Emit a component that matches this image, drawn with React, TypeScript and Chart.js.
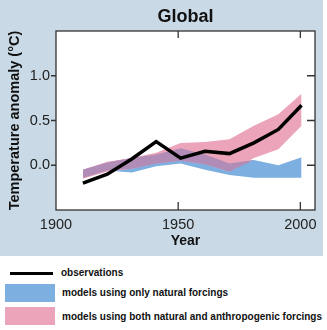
import React, { useEffect, useRef } from "react";
import { Chart, registerables } from "chart.js";

Chart.register(...registerables);

// ---- data ----
const years = [1911, 1921, 1931, 1941, 1951, 1961, 1971, 1981, 1991, 2000.5];
const observations = [-0.2, -0.1, 0.07, 0.265, 0.08, 0.155, 0.13, 0.25, 0.4, 0.67];
const naturalUpper = [-0.05, 0.03, 0.08, 0.12, 0.19, 0.12, 0.02, 0.06, 0.0, 0.09];
const naturalLower = [-0.14, -0.06, -0.08, -0.01, 0.02, -0.05, -0.11, -0.14, -0.14, -0.14];
const bothUpper = [-0.05, 0.04, 0.08, 0.14, 0.25, 0.26, 0.29, 0.44, 0.57, 0.8];
const bothLower = [-0.15, -0.07, -0.04, 0.02, 0.05, 0.01, -0.07, 0.08, 0.18, 0.44];
const xTickValues = [1900, 1950, 2000];
const xTickMarks = [1950, 2000];
const yTickValues = [0, 0.5, 1.0];
const legendLabels = [
  "observations",
  "models using only natural forcings",
  "models using both natural and anthropogenic forcings",
];

const FONT = "'Liberation Sans', Arial, Helvetica, sans-serif";
const PANEL = "#c9dae6";
const BLUE = "#7dafe0";
const PINK = "#eca4ba";
const PURPLE = "#b08cb6";

const pts = (vals: number[]) => years.map((x, i) => ({ x, y: vals[i] }));

const frameTicks = {
  id: "frameTicks",
  beforeDraw(chart: any) {
    const { ctx, chartArea: a } = chart;
    ctx.save();
    ctx.fillStyle = "#ffffff";
    ctx.fillRect(a.left, a.top, a.right - a.left, a.bottom - a.top);
    ctx.restore();
  },
  afterDatasetsDraw(chart: any) {
    const { ctx, chartArea: a, scales } = chart;
    ctx.save();
    ctx.strokeStyle = "#333333";
    ctx.lineWidth = 1.3;
    ctx.strokeRect(a.left, a.top, a.right - a.left, a.bottom - a.top);
    ctx.beginPath();
    yTickValues.forEach((v) => {
      const y = scales.y.getPixelForValue(v);
      ctx.moveTo(a.left - 5, y);
      ctx.lineTo(a.left, y);
      ctx.moveTo(a.right - 8, y);
      ctx.lineTo(a.right, y);
    });
    xTickMarks.forEach((v) => {
      const x = scales.x.getPixelForValue(v);
      ctx.moveTo(x, a.bottom);
      ctx.lineTo(x, a.bottom - 8);
      ctx.moveTo(x, a.top);
      ctx.lineTo(x, a.top + 7);
    });
    ctx.stroke();
    ctx.restore();
  },
};

export default function App() {
  const ref = useRef<HTMLCanvasElement | null>(null);

  useEffect(() => {
    if (!ref.current) return;
    const overlapUpper = years.map((_, i) => Math.min(bothUpper[i], naturalUpper[i]));
    const overlapLower = years.map((_, i) =>
      Math.min(Math.max(bothLower[i], naturalLower[i]), overlapUpper[i])
    );
    const band = (vals: number[], color: string, fill: any) => ({
      data: pts(vals),
      borderWidth: 0,
      borderColor: "rgba(0,0,0,0)",
      backgroundColor: color,
      pointRadius: 0,
      fill,
      tension: 0,
    });
    const chart = new Chart(ref.current, {
      type: "line",
      data: {
        datasets: [
          {
            label: legendLabels[0],
            data: pts(observations),
            borderColor: "#000000",
            borderWidth: 3.5,
            borderJoinStyle: "miter",
            pointRadius: 0,
            fill: false,
            tension: 0,
          } as any,
          band(overlapUpper, PURPLE, "+1"),
          band(overlapLower, PURPLE, false),
          band(bothUpper, PINK, "+1"),
          band(bothLower, PINK, false),
          band(naturalUpper, BLUE, "+1"),
          band(naturalLower, BLUE, false),
        ],
      },
      options: {
        animation: false,
        responsive: false,
        maintainAspectRatio: false,
        events: [],
        layout: { padding: { left: 2, right: 8, top: 0, bottom: 4 } },
        plugins: {
          legend: { display: false },
          tooltip: { enabled: false },
          filler: { propagate: false },
          title: {
            display: true,
            text: "Global",
            fullSize: false,
            color: "#111111",
            font: { family: FONT, size: 18, weight: "bold" },
            padding: { top: 6.2, bottom: 3.2 },
          },
        },
        scales: {
          x: {
            type: "linear",
            min: 1900,
            max: 2006,
            afterFit: (s: any) => {
              s.height = 42;
            },
            afterBuildTicks: (s: any) => {
              s.ticks = xTickValues.map((value) => ({ value }));
            },
            grid: { display: false, drawTicks: false },
            border: { display: false },
            ticks: {
              autoSkip: false,
              maxRotation: 0,
              padding: 6,
              color: "#222222",
              font: { family: FONT, size: 14.5 },
              callback: (v: any) => String(v),
            },
            title: {
              display: true,
              text: "Year",
              color: "#111111",
              font: { family: FONT, size: 14, weight: "bold" },
              padding: { top: 0, bottom: 2.1 },
            },
          },
          y: {
            type: "linear",
            min: -0.5,
            max: 1.5,
            afterFit: (s: any) => {
              s.width = 54;
            },
            afterBuildTicks: (s: any) => {
              s.ticks = yTickValues.map((value) => ({ value }));
            },
            grid: { display: false, drawTicks: false },
            border: { display: false },
            ticks: {
              padding: 6,
              color: "#222222",
              font: { family: FONT, size: 14.5 },
              callback: (v: any) => Number(v).toFixed(1),
            },
            title: {
              display: true,
              text: "Temperature anomaly (°C)",
              color: "#111111",
              font: { family: FONT, size: 14.5, weight: "bold" },
              padding: { top: 4.3, bottom: 0 },
            },
          },
        },
      },
      plugins: [frameTicks],
    } as any);
    return () => chart.destroy();
  }, []);

  const textStyle: React.CSSProperties = {
    position: "absolute",
    left: 61,
    fontFamily: FONT,
    fontWeight: "bold",
    fontSize: 10,
    lineHeight: "12px",
    color: "#111",
    whiteSpace: "nowrap",
  };

  return (
    <div style={{ position: "absolute", left: 0, top: 0, width: 327, height: 330, background: "#fff", overflow: "hidden" }}>
      <div style={{ position: "absolute", left: 0, top: 0, width: 323, height: 256, background: PANEL }}>
        <canvas ref={ref} width={323} height={256} style={{ display: "block", width: 323, height: 256 }} />
      </div>
      <div style={{ position: "absolute", left: 10, top: 272, width: 43, height: 3, background: "#000" }} />
      <div style={{ ...textStyle, top: 267 }}>{legendLabels[0]}</div>
      <div style={{ position: "absolute", left: 5, top: 284, width: 50, height: 18, background: BLUE }} />
      <div style={{ ...textStyle, left: 62, top: 287 }}>{legendLabels[1]}</div>
      <div style={{ position: "absolute", left: 5, top: 307, width: 50, height: 17.5, background: PINK }} />
      <div style={{ ...textStyle, left: 62, top: 310.5 }}>{legendLabels[2]}</div>
    </div>
  );
}
